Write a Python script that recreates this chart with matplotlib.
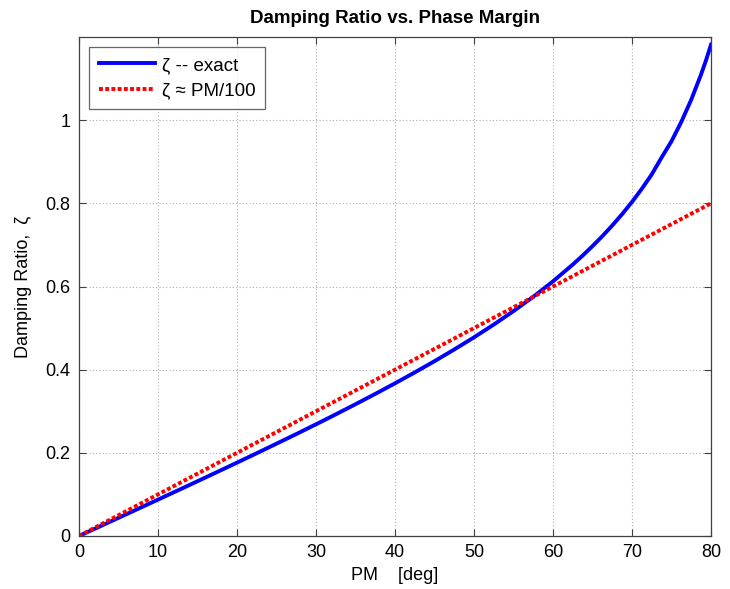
import matplotlib
matplotlib.use("Agg")
import matplotlib.pyplot as plt

plt.rcParams['font.family'] = ['Liberation Sans', 'DejaVu Sans']

# Phase margin (deg) and exact damping ratio
pm = [0, 2.5, 5, 7.5, 10, 12.5, 15, 17.5, 20, 22.5, 25, 27.5, 30, 32.5, 35, 37.5,
      40, 42.5, 45, 47.5, 50, 52.5, 55, 57.5, 60, 62.5, 63.75, 65, 66.25, 67.5,
      68.75, 70, 71.25, 72.5, 73.75, 75, 76.25, 77.5, 78.75, 79.375, 80]
zeta_exact = [0.0, 0.0218, 0.0437, 0.0655, 0.0875, 0.1095, 0.1317, 0.1540, 0.1764,
              0.1991, 0.2220, 0.2451, 0.2686, 0.2925, 0.3169, 0.3417, 0.3672, 0.3934,
              0.4204, 0.4485, 0.4777, 0.5084, 0.5408, 0.5753, 0.6124, 0.6527, 0.6743,
              0.6971, 0.7211, 0.7467, 0.7740, 0.8034, 0.8351, 0.8696, 0.9104, 0.9493,
              0.9962, 1.0493, 1.1103, 1.1444, 1.1816]
pm_approx = [0, 80]
zeta_approx = [0.0, 0.8]

xticks = [0, 10, 20, 30, 40, 50, 60, 70, 80]
yticks = [0, 0.2, 0.4, 0.6, 0.8, 1.0]
ytick_labels = ['0', '0.2', '0.4', '0.6', '0.8', '1']

fig = plt.figure(figsize=(7.30, 5.89), dpi=100)
ax = fig.add_axes([79/730, 53/589, 632/730, 499/589])

ax.plot(pm, zeta_exact, color='#0000ff', lw=2.8, label='ζ -- exact')
ax.plot(pm_approx, zeta_approx, color='#ff0000', lw=2.8, ls=(0, (1, 0.6)), label='ζ ≈ PM/100')

ax.set_xlim(0, 80)
ax.set_ylim(0, 1.2)
ax.set_xticks(xticks)
ax.set_yticks(yticks)
ax.set_yticklabels(ytick_labels)
ax.tick_params(direction='in', top=True, right=True, labelsize=13, length=5,
               color='#404040', width=0.8, pad=6)
for s in ax.spines.values():
    s.set_color('#404040')
    s.set_linewidth(0.9)
ax.grid(True, ls=(0, (1, 2)), color='#b0b0b0', lw=0.8)

ax.set_title('Damping Ratio vs. Phase Margin', fontsize=13.5, fontweight='bold', pad=10)
ax.set_xlabel('PM    [deg]', fontsize=13, labelpad=4)
ax.set_ylabel('Damping Ratio,  ζ', fontsize=13, labelpad=10)

leg = ax.legend(loc='upper left', fontsize=13.5, frameon=True, fancybox=False,
                edgecolor='#404040', handlelength=3.0, borderpad=0.5,
                labelspacing=0.45, handletextpad=0.4, borderaxespad=0.55)
leg.get_frame().set_linewidth(0.9)

fig.savefig('out.png', dpi=100)
